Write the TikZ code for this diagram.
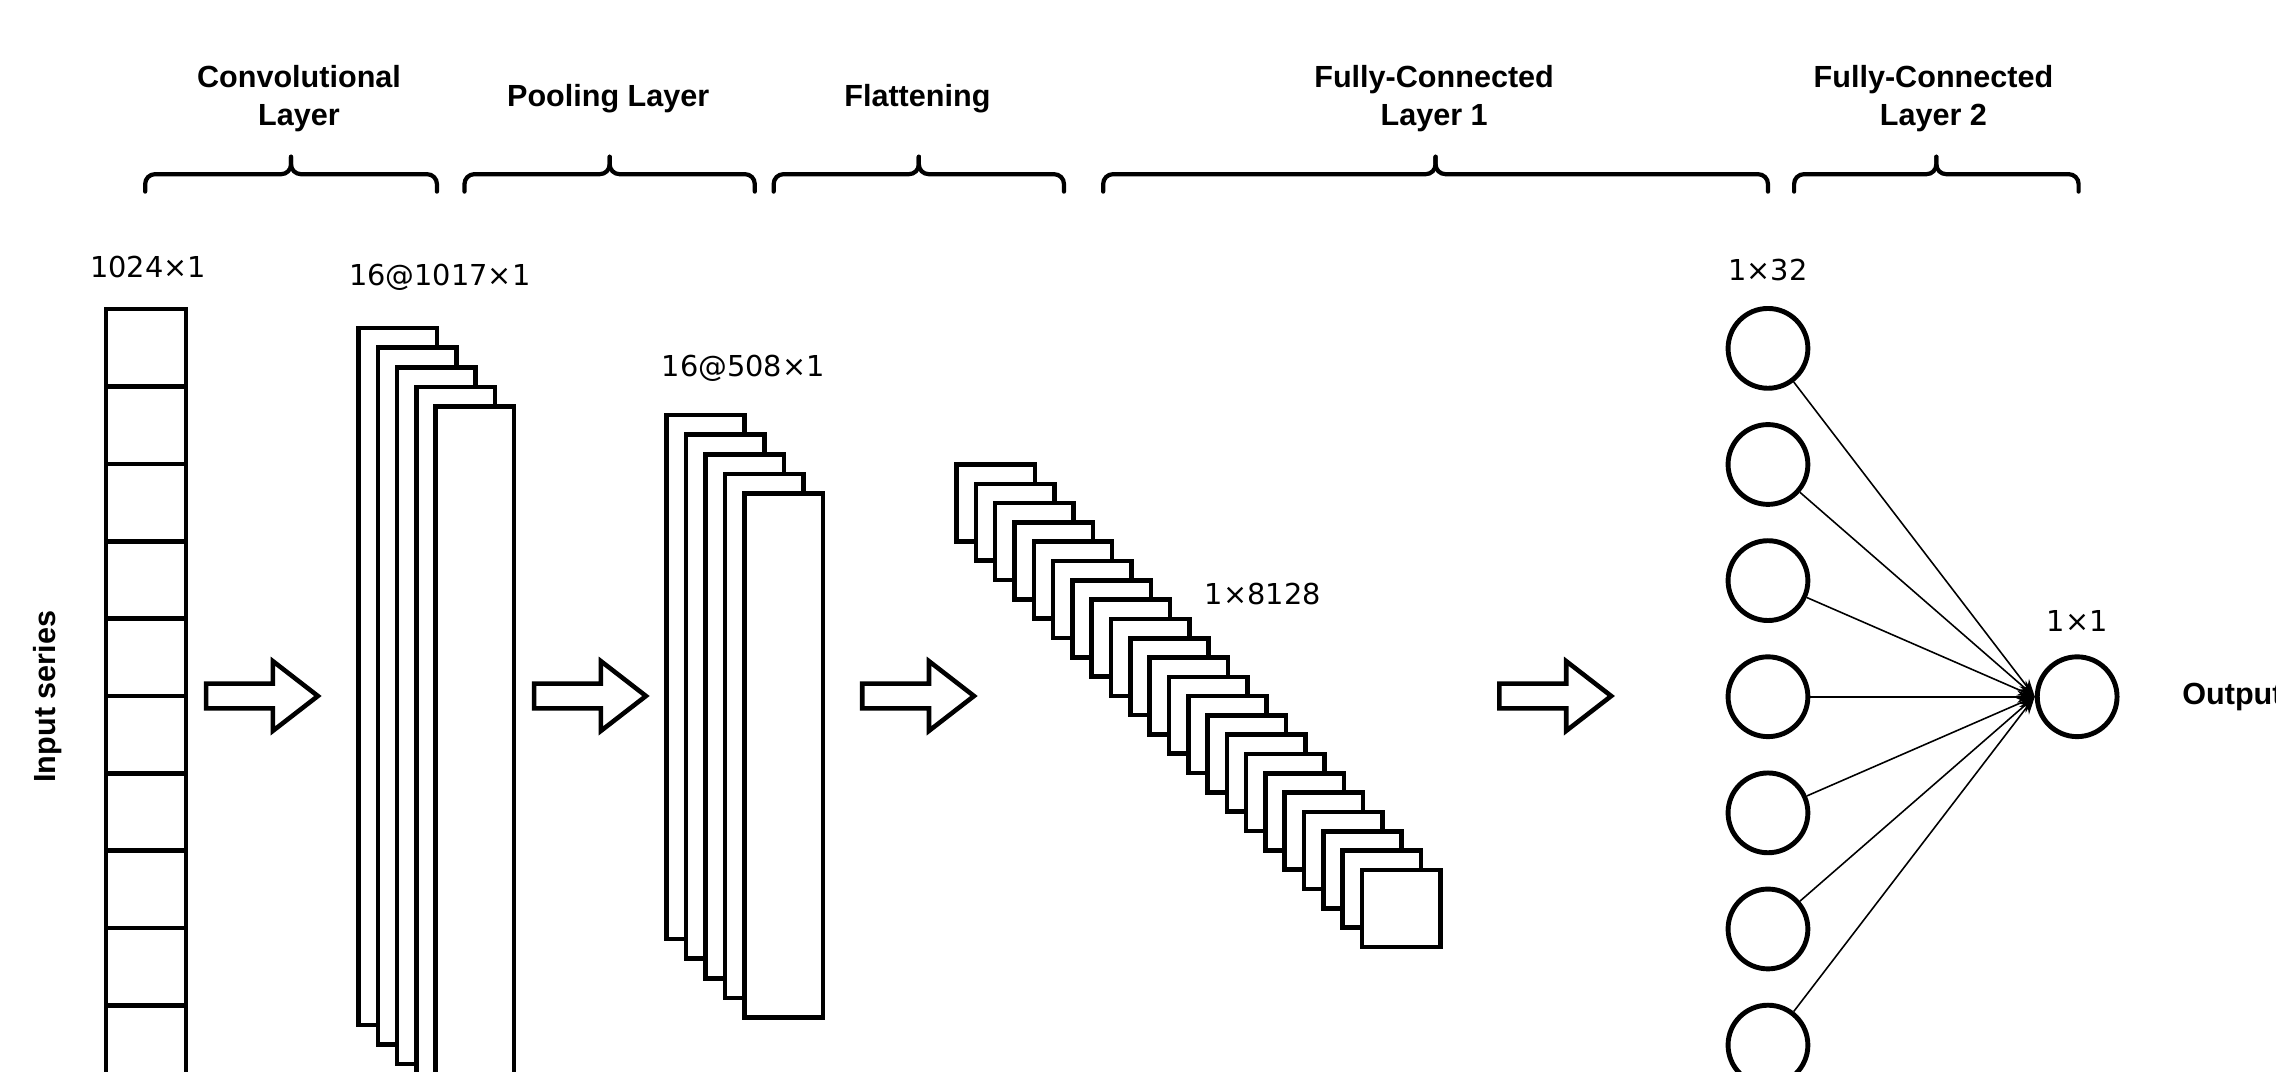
\documentclass[tikz,border=0pt]{standalone}
\usepackage{fontspec}
\setmainfont{Liberation Sans}
\newfontfamily\dimfont{DejaVu Sans}
\usetikzlibrary{arrows.meta,positioning}

\begin{document}
\begin{tikzpicture}[
    x=0.14515mm, y=-0.14515mm,
    font=\fontsize{8.7}{10.7}\selectfont\bfseries,
    heading/.style={
        align=center,
        inner sep=0pt
    },
    layerbrace/.style={
        rounded corners=2.8pt,
        line width=1.2pt,
        line cap=round
    },
    dimlabel/.style={
        font=\fontsize{8.2}{9}\selectfont\dimfont\mdseries,
        inner sep=0pt
    },
    fmap/.style={
        draw,
        fill=white,
        line width=1.3pt
    },
    neuron/.style={
        circle,
        draw,
        line width=1.4pt,
        minimum size=7.98mm,
        inner sep=0pt
    },
    link/.style={
        -{Stealth[length=5pt, width=3.5pt]},
        line width=0.45pt
    },
    blockarrow/.pic={
        \draw[line width=1.3pt, fill=white, line join=miter]
            (-38.5,-8.5) -- (7.5,-8.5) -- (7.5,-24) -- (38.5,0)
            -- (7.5,24) -- (7.5,8.5) -- (-38.5,8.5) -- cycle;
    }
]
\useasboundingbox (0,0) rectangle (1568,738);
\clip (0,0) rectangle (1568,738);

% Layer headings
\node[heading] (convhead) at (206,68) {Convolutional\\Layer};
\node[heading] (poolhead) at (419,68) {Pooling Layer};
\node[heading] (flathead) at (632,68) {Flattening};
\node[heading] (fconehead) at (988,68) {Fully-Connected\\Layer 1};
\node[heading] (fctwohead) at (1332,68) {Fully-Connected\\Layer 2};

% Braces under the headings
\foreach \bl/\br in {100/301, 320/520, 533/733, 760/1218, 1236/1432} {
    \draw[layerbrace] (\bl,132) -- (\bl,120) -- ({(\bl+\br)/2},120) -- ({(\bl+\br)/2},108);
    \draw[layerbrace] (\br,132) -- (\br,120) -- ({(\bl+\br)/2},120) -- ({(\bl+\br)/2},108);
}

% Input series
\node[rotate=90] (inputlbl) at (33,480) {Input series};
\foreach \i in {0,...,10} {
    \draw[fmap] (73,213+53.3*\i) rectangle ++(55,53.3);
}
\node[dimlabel] (indim) at (102,184) {1024×1};

% Convolutional feature maps
\foreach \i in {0,...,4} {
    \draw[fmap] (247+13.3*\i,226+13.5*\i) rectangle ++(54,480);
}
\node[dimlabel] (convdim) at (303,191) {16@1017×1};

% Pooled feature maps
\foreach \i in {0,...,4} {
    \draw[fmap] (459+13.5*\i,286+13.5*\i) rectangle ++(54,361);
}
\node[dimlabel] (pooldim) at (512,254) {16@508×1};

% Flattened vector
\foreach \i in {0,...,21} {
    \draw[fmap] (659+13.3*\i,320+13.3*\i) rectangle ++(54,53);
}
\node[dimlabel] (flatdim) at (870,409) {1×8128};

% Block arrows between stages
\foreach \pos in {180.5, 406.5, 632.5, 1071.5} {
    \pic at (\pos,479.5) {blockarrow};
}

% Fully-connected layers
\foreach \k in {1,...,7} {
    \node[neuron] (h\k) at (1218,160+80*\k) {};
}
\node[dimlabel] (hiddim) at (1218,186) {1×32};
\node[neuron] (out) at (1431,480) {};
\node[dimlabel] (outdim) at (1431,428) {1×1};
\foreach \k in {1,...,7} {
    \draw[link] (h\k) -- (out.west);
}
\node[anchor=west, inner sep=0pt] (outputlbl) at (1503,480) {Output};
\end{tikzpicture}
\end{document}
